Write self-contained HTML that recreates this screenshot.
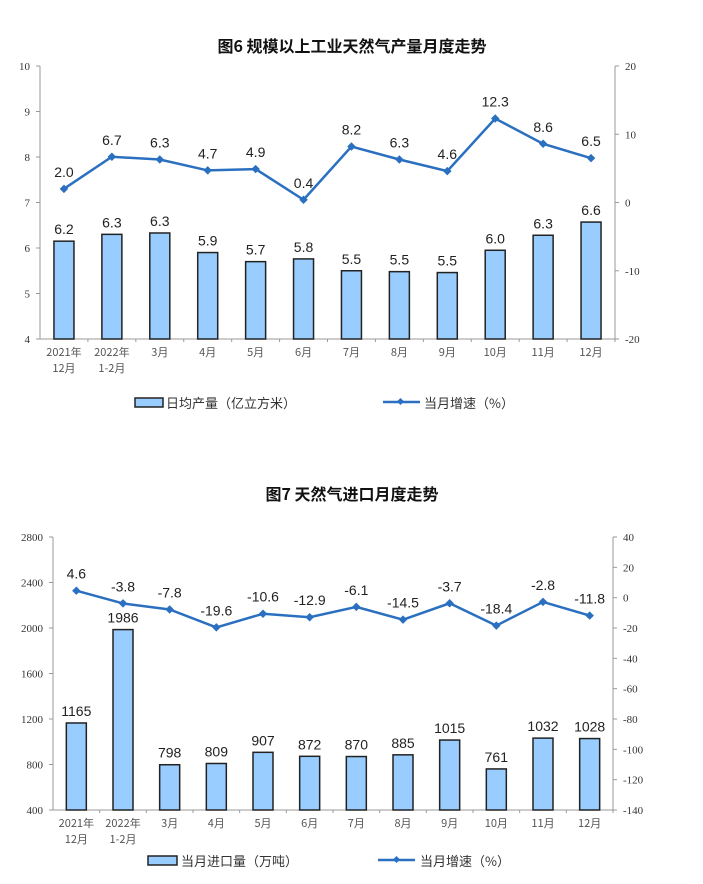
<!DOCTYPE html>
<html><head><meta charset="utf-8"><style>
body{margin:0;background:#fff;}
svg{display:block;font-family:"Liberation Sans","Noto Sans CJK SC",sans-serif;}
</style></head><body>
<svg id="s" width="703" height="884" xmlns="http://www.w3.org/2000/svg"></svg>
<script>
const s=document.getElementById('s');let h='';
const cjk='font-family="Noto Sans CJK SC, sans-serif"';
const cats=[['2021年','12月'],['2022年','1-2月'],['3月'],['4月'],['5月'],['6月'],['7月'],['8月'],['9月'],['10月'],['11月'],['12月']];
function chart(o){
 const {x0,x1,yT,yB,lmin,lmax,lstep,rmin,rmax,rstep,bars,blab,line,llab}=o;
 const sp=(x1-x0)/12;
 const yl=v=>yB-(v-lmin)/(lmax-lmin)*(yB-yT);
 const yr=v=>yB-(v-rmin)/(rmax-rmin)*(yB-yT);
 h+=`<line x1="${x0}" y1="${yT}" x2="${x0}" y2="${yB}" stroke="#999"/><line x1="${x1}" y1="${yT}" x2="${x1}" y2="${yB}" stroke="#999"/><line x1="${x0}" y1="${yB}" x2="${x1}" y2="${yB}" stroke="#999"/>`;
 for(let v=lmin;v<=lmax;v+=lstep){const y=yl(v);h+=`<line x1="${x0-4}" y1="${y}" x2="${x0}" y2="${y}" stroke="#999"/><text x="${x0-10}" y="${y+4}" font-family="Liberation Serif,serif" font-size="11" text-anchor="end" fill="#333">${v}</text>`;}
 for(let v=rmin;v<=rmax;v+=rstep){const y=yr(v);h+=`<line x1="${x1}" y1="${y}" x2="${x1+4}" y2="${y}" stroke="#999"/><text x="${x1+10}" y="${y+4}" font-family="Liberation Serif,serif" font-size="11" fill="#333">${v}</text>`;}
 let pts=[];
 bars.forEach((b,i)=>{const cx=x0+sp*(i+0.5);const y=yl(b);
  h+=`<rect x="${cx-10}" y="${y}" width="20" height="${yB-y}" fill="#99ccff" stroke="#222" stroke-width="1.5"/>`;
  h+=`<text x="${cx}" y="${y-7}" font-size="14" text-anchor="middle" fill="#222">${blab[i]}</text>`;
  h+=`<line x1="${x0+sp*(i+1)}" y1="${yB}" x2="${x0+sp*(i+1)}" y2="${yB+3}" stroke="#999"/>`;
  const c=cats[i];c.forEach((t,k)=>h+=`<text x="${cx}" y="${yB+17+k*16}" ${cjk} font-size="11" text-anchor="middle" fill="#555">${t}</text>`);
  pts.push([cx,yr(line[i])]);});
 h+=`<polyline points="${pts.map(p=>p.join(',')).join(' ')}" fill="none" stroke="#2b6fc0" stroke-width="2.5"/>`;
 pts.forEach((p,i)=>{h+=`<rect x="${p[0]-3}" y="${p[1]-3}" width="6" height="6" transform="rotate(45 ${p[0]} ${p[1]})" fill="#2b6fc0"/><text x="${p[0]}" y="${p[1]-12}" font-size="14" text-anchor="middle" fill="#222">${llab[i]}</text>`;});
}
h+=`<text x="352" y="52" ${cjk} font-size="16" font-weight="bold" text-anchor="middle" fill="#111">图6  规模以上工业天然气产量月度走势</text>`;
const b1=[6.15,6.3,6.33,5.9,5.7,5.76,5.5,5.48,5.46,5.95,6.28,6.57];
const l1=[2.0,6.7,6.3,4.7,4.9,0.4,8.2,6.3,4.6,12.3,8.6,6.5];
chart({x0:40,x1:615,yT:66,yB:339,lmin:4,lmax:10,lstep:1,rmin:-20,rmax:20,rstep:10,bars:b1,blab:b1.map(v=>v.toFixed(1)).map((v,i)=>['6.2','6.3','6.3','5.9','5.7','5.8','5.5','5.5','5.5','6.0','6.3','6.6'][i]),line:l1,llab:l1.map(v=>v.toFixed(1))});
h+=`<rect x="135" y="398" width="28" height="9" fill="#99ccff" stroke="#222" stroke-width="1.5"/><text x="166" y="408" ${cjk} font-size="13" fill="#333">日均产量（亿立方米）</text>`;
h+=`<line x1="383" y1="402" x2="420" y2="402" stroke="#2b6fc0" stroke-width="2.5"/><rect x="398" y="399" width="5" height="5" transform="rotate(45 400.5 401.5)" fill="#2b6fc0"/><text x="424" y="408" ${cjk} font-size="13" fill="#333">当月增速（%）</text>`;
h+=`<text x="352" y="500" ${cjk} font-size="16" font-weight="bold" text-anchor="middle" fill="#111">图7  天然气进口月度走势</text>`;
const b2=[1165,1986,798,809,907,872,870,885,1015,761,1032,1028];
const l2=[4.6,-3.8,-7.8,-19.6,-10.6,-12.9,-6.1,-14.5,-3.7,-18.4,-2.8,-11.8];
chart({x0:53,x1:613,yT:537,yB:810,lmin:400,lmax:2800,lstep:400,rmin:-140,rmax:40,rstep:20,bars:b2,blab:b2,line:l2,llab:l2.map(v=>v.toFixed(1))});
h+=`<rect x="148" y="856" width="29" height="9" fill="#99ccff" stroke="#222" stroke-width="1.5"/><text x="181" y="866" ${cjk} font-size="13" fill="#333">当月进口量（万吨）</text>`;
h+=`<line x1="378" y1="860" x2="415" y2="860" stroke="#2b6fc0" stroke-width="2.5"/><rect x="394" y="857" width="5" height="5" transform="rotate(45 396.5 859.5)" fill="#2b6fc0"/><text x="420" y="866" ${cjk} font-size="13" fill="#333">当月增速（%）</text>`;
s.innerHTML=h;
</script>
</body></html>
